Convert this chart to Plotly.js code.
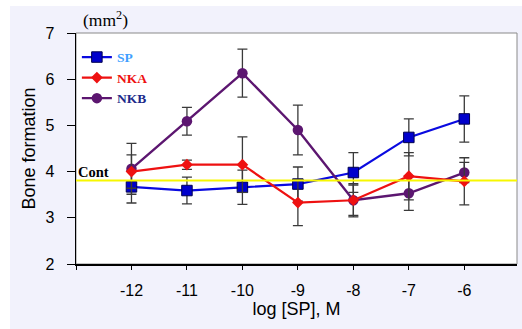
<!DOCTYPE html>
<html>
<head>
<meta charset="utf-8">
<script src="https://cdn.plot.ly/plotly-3.0.1.min.js"></script>
<style>
  html, body { margin: 0; padding: 0; background: #ffffff; width: 522px; height: 329px; overflow: hidden; }
  #chart { position: absolute; left: 10px; top: 6px; width: 512px; height: 323px; }
</style>
</head>
<body>
<div id="chart"></div>
<script>
// Data
const logConc = [-12, -11, -10, -9, -8, -7, -6];
const spMean  = [3.67, 3.59, 3.66, 3.73, 3.98, 4.74, 5.14];
const spErr   = [0.35, 0.29, 0.37, 0.37, 0.43, 0.40, 0.50];
const nkaMean = [4.00, 4.15, 4.15, 3.33, 3.38, 3.90, 3.79];
const nkaErr  = [0.36, 0.10, 0.60, 0.50, 0.33, 0.51, 0.51];
const nkbMean = [4.06, 5.09, 6.13, 4.90, 3.38, 3.53, 3.98];
const nkbErr  = [0.55, 0.30, 0.52, 0.54, 0.36, 0.37, 0.22];
const controlValue = 3.81;
const xTickVals = [-13, -12, -11, -10, -9, -8, -7, -6];
const xTickText = ['', '-12', '-11', '-10', '-9', '-8', '-7', '-6'];

const errStyle = (arr) => ({
  type: 'data', array: arr, visible: true,
  color: '#3a3a3a', thickness: 1.3, width: 5
});

const traces = [
  {
    x: logConc, y: spMean, error_y: errStyle(spErr),
    mode: 'lines+markers', type: 'scatter',
    name: '<span style="color:#3f9fff">SP</span>', legendrank: 1,
    line: {color: '#0a0ae0', width: 2.2},
    marker: {symbol: 'square', size: 10.5, color: '#0000cc', line: {color: '#000050', width: 1}}
  },
  {
    x: logConc, y: nkbMean, error_y: errStyle(nkbErr),
    mode: 'lines+markers', type: 'scatter',
    name: '<span style="color:#1c2a8a">NKB</span>', legendrank: 3,
    line: {color: '#5c1670', width: 2.4},
    marker: {symbol: 'circle', size: 10.5, color: '#5c1670'}
  },
  {
    x: logConc, y: nkaMean, error_y: errStyle(nkaErr),
    mode: 'lines+markers', type: 'scatter',
    name: '<span style="color:#ee1111">NKA</span>', legendrank: 2,
    line: {color: '#ee1111', width: 2.2},
    marker: {symbol: 'diamond', size: 9, color: '#ee1111'}
  }
];

const layout = {
  width: 512, height: 323,
  paper_bgcolor: '#f2f2fc',
  plot_bgcolor: '#ffffff',
  margin: {l: 66, r: 5, t: 27, b: 64.5},
  font: {family: 'Liberation Sans, Arial, sans-serif', color: '#000000'},
  showlegend: true,
  legend: {
    x: 0.002, y: 0.962, xanchor: 'left', yanchor: 'top',
    bgcolor: 'rgba(0,0,0,0)', borderwidth: 0,
    font: {family: 'Liberation Serif, Times New Roman, serif', size: 13.5, weight: 'bold'},
    tracegroupgap: 0
  },
  xaxis: {
    range: [-13, -5.05],
    tickmode: 'array', tickvals: xTickVals, ticktext: xTickText,
    ticks: 'outside', ticklen: 4, tickwidth: 1, tickcolor: '#000000',
    ticklabelstandoff: 7,
    showgrid: false, zeroline: false,
    showline: true, linecolor: '#000000', linewidth: 1.5,
    tickfont: {size: 16},
    title: {text: 'log [SP], M', font: {size: 18}, standoff: 1}
  },
  yaxis: {
    range: [2, 7], dtick: 1,
    ticks: 'outside', ticklen: 8, tickwidth: 1, tickcolor: '#000000',
    ticklabelstandoff: 9,
    showgrid: false, zeroline: false,
    showline: true, linecolor: '#000000', linewidth: 1.5,
    tickfont: {size: 16},
    title: {text: 'Bone formation', font: {size: 18}, standoff: 5}
  },
  shapes: [
    {
      type: 'rect', xref: 'paper', yref: 'paper', x0: 0, x1: 1, y0: 0, y1: 1,
      line: {color: '#8a8a8a', width: 1}, layer: 'below'
    },
    {
      type: 'line', xref: 'paper', yref: 'y', x0: 0, x1: 1,
      y0: controlValue, y1: controlValue,
      line: {color: '#f7f700', width: 2}, layer: 'above'
    }
  ],
  annotations: [
    {
      text: 'Cont', xref: 'paper', yref: 'y', x: 0, y: 4.0,
      xanchor: 'left', yanchor: 'middle', xshift: 0, showarrow: false,
      font: {family: 'Liberation Serif, Times New Roman, serif', size: 14.5, weight: 'bold', color: '#000000'}
    },
    {
      text: '(mm<sup>2</sup>)', xref: 'paper', yref: 'paper', x: 0, y: 1,
      xanchor: 'left', yanchor: 'bottom', xshift: 5, yshift: 1, showarrow: false,
      font: {family: 'Liberation Serif, Times New Roman, serif', size: 17.5, color: '#000000'}
    }
  ]
};

Plotly.newPlot('chart', traces, layout, {displayModeBar: false, staticPlot: true});
</script>
</body>
</html>
